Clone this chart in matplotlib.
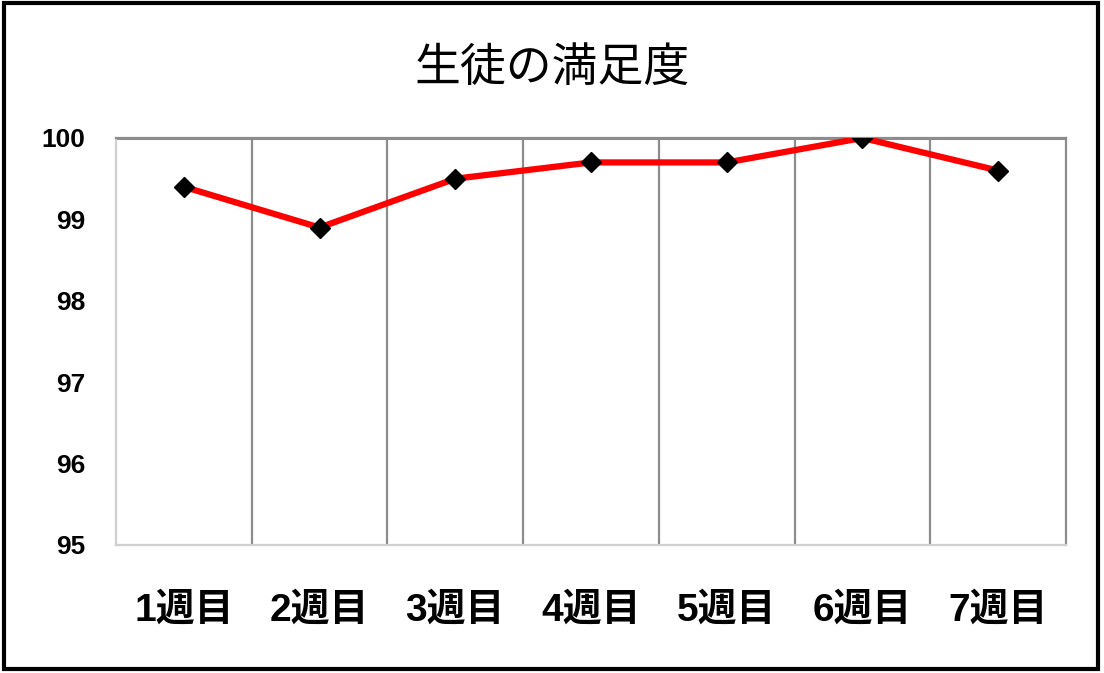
import matplotlib
matplotlib.use('Agg')
import matplotlib.pyplot as plt
from matplotlib.patches import Rectangle

plt.rcParams['font.family'] = ['Noto Sans CJK JP', 'DejaVu Sans']

# データ
weeks = ['1週目', '2週目', '3週目', '4週目', '5週目', '6週目', '7週目']
satisfaction = [99.4, 98.9, 99.5, 99.7, 99.7, 100.0, 99.6]
yticks = [95, 96, 97, 98, 99, 100]
title = '生徒の満足度'

fig = plt.figure(figsize=(11.04, 6.73), dpi=100)
ax = fig.add_axes([116/1104, 1 - 545/673, 950/1104, 407/673])

x = list(range(len(weeks)))
ax.plot(x, satisfaction, color='#ff0000', lw=4.5, zorder=3, solid_capstyle='round')
ax.plot(x, satisfaction, ls='none', marker='D', ms=10, color='black', zorder=4)

ax.set_xlim(-0.5, len(weeks) - 0.5)
ax.set_ylim(95, 100)

# 区切り線
for b in range(len(weeks) - 1):
    ax.axvline(b + 0.5, color='#8c8c8c', lw=1.6, zorder=1)
ax.axhline(100, color='#8c8c8c', lw=2.2, zorder=1)

ax.spines['left'].set_color('#d0d0d0')
ax.spines['bottom'].set_color('#d0d0d0')
ax.spines['right'].set_color('#8c8c8c')
ax.spines['top'].set_color('#8c8c8c')
for s in ['left', 'bottom', 'right', 'top']:
    ax.spines[s].set_linewidth(1.6)

ax.set_yticks(yticks)
ax.set_yticklabels([str(v) for v in yticks], fontsize=19, fontweight='bold',
                   family=['Liberation Sans', 'DejaVu Sans'])
ax.set_xticks(x)
ax.set_xticklabels(weeks, fontsize=28, fontweight='bold',
                   family=['Liberation Sans', 'Noto Sans CJK JP'])
ax.tick_params(axis='y', length=0, pad=22)
ax.tick_params(axis='x', length=0, pad=34)

fig.text(0.5, 1 - 68/673, title, ha='center', va='center', fontsize=33)

# 外枠
fig.patches.append(Rectangle((4/1104, 4/673), 1094/1104, 666/673, transform=fig.transFigure,
                             fill=False, edgecolor='black', lw=3))

fig.savefig('out.png', dpi=100)
